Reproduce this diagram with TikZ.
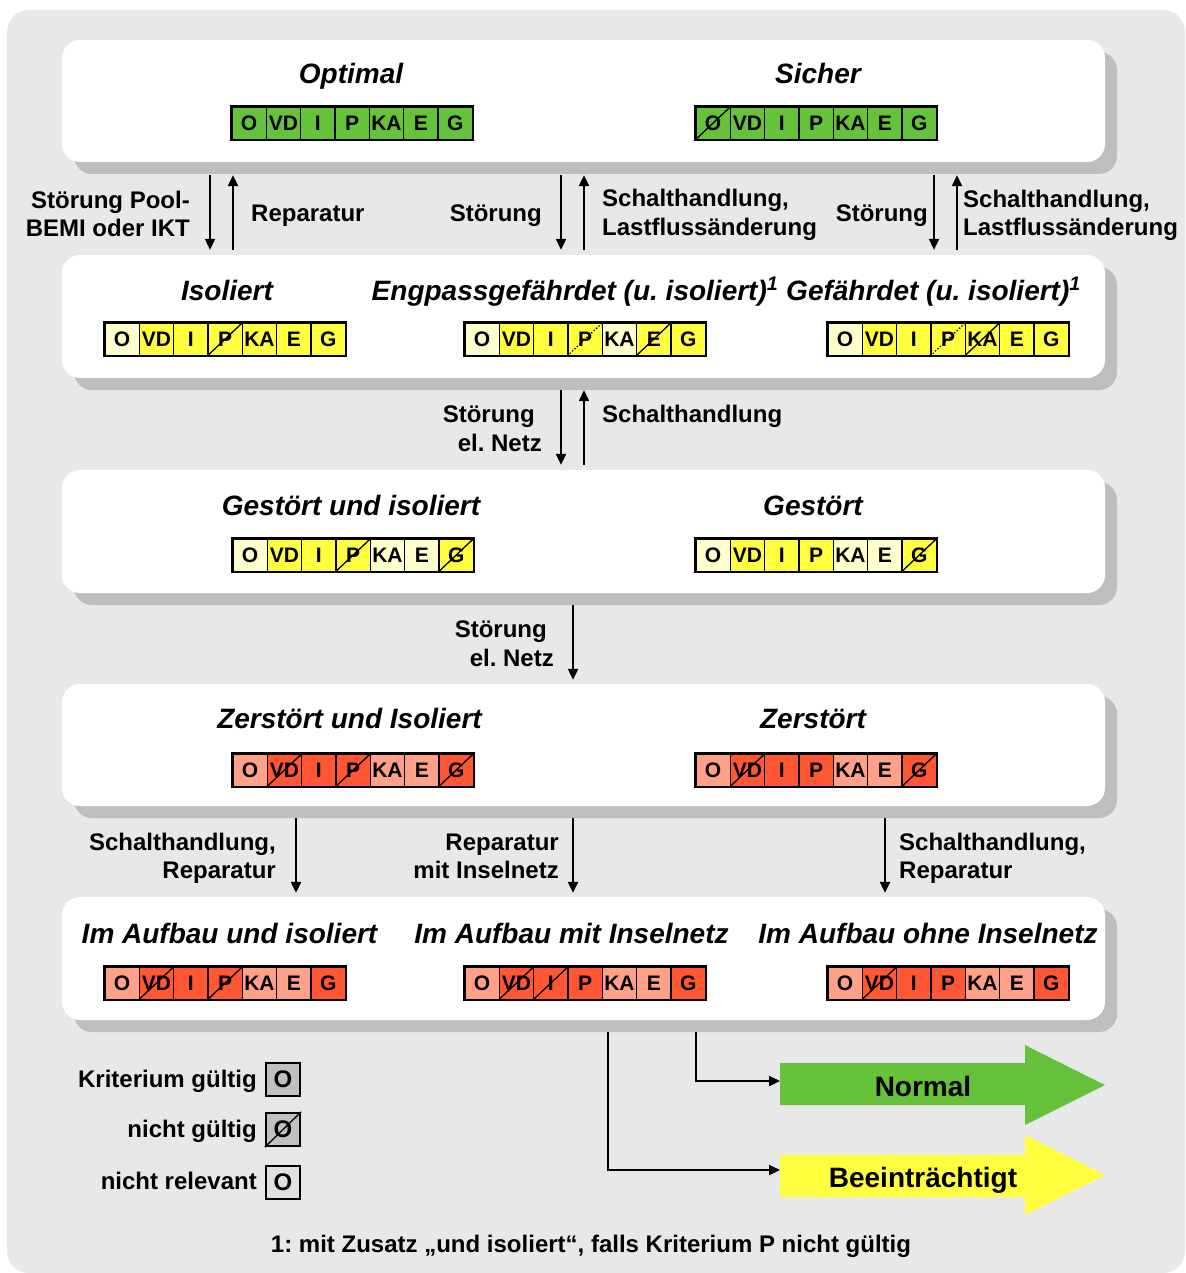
\documentclass[tikz,border=0pt]{standalone}
\usepackage{fontspec}
\setmainfont{Liberation Sans}
\usetikzlibrary{arrows.meta,shadows,calc}
\frenchspacing

\definecolor{bgc}{RGB}{232,232,232}
\definecolor{shd}{RGB}{190,190,190}
\definecolor{gn}{RGB}{102,194,58}
\definecolor{yl}{RGB}{255,255,64}
\definecolor{ly}{RGB}{255,255,204}
\definecolor{rd}{RGB}{255,87,51}
\definecolor{lr}{RGB}{255,160,138}
\definecolor{lgv}{RGB}{192,192,192}
\definecolor{lgn}{RGB}{224,224,224}

% one row of seven criteria: name, left x, top y, list label/colour/state
% state: 0 = valid, 1 = not valid (crossed), 2 = conditionally not valid (dotted)
\newcommand\critrow[4]{%
  \foreach \lab/\col/\st [count=\i from 0] in {#4}{%
    \node[cell,fill=\col,anchor=north west] (#1-\i) at ({#2+1.3+\i*34.35},{#3+1.3}) {\lab};
    \ifcase\st\or
      \draw[xline] (#1-\i.south west) -- (#1-\i.north east);
    \or
      \draw[xline,dotted] (#1-\i.south west) -- (#1-\i.north east);
    \fi
  }
  \draw[frame] (#1-0.north west) rectangle (#1-6.south east);
}

\begin{document}
\begin{tikzpicture}[x=1pt,y=-1pt,
  panel/.style={fill=white,rounded corners=18pt,minimum width=1043pt,inner sep=0pt,
    drop shadow={shadow xshift=12pt,shadow yshift=-12pt,fill=shd,opacity=1}},
  cell/.style={draw,line width=1.2pt,minimum width=34.35pt,minimum height=32.4pt,inner sep=0pt,
    font=\bfseries\fontsize{21}{21}\selectfont},
  frame/.style={line width=2.6pt},
  xline/.style={line width=1.3pt},
  ttl/.style={font=\bfseries\itshape\fontsize{28}{32}\selectfont,inner sep=0pt,anchor=base},
  lbl/.style={font=\bfseries\fontsize{24}{28}\selectfont,inner sep=0pt},
  arr/.style={line width=2.2pt,-{Triangle[length=11pt,width=10pt]}},
  big/.style={font=\bfseries\fontsize{28}{32}\selectfont,inner sep=0pt,anchor=base},
  lgbox/.style={draw,line width=2.4pt,minimum width=34pt,minimum height=33pt,inner sep=0pt,
    font=\bfseries\fontsize{24}{24}\selectfont},
]
\useasboundingbox (0,0) rectangle (1185,1273);
\fill[bgc,rounded corners=22pt] (7,10) rectangle (1185,1273);

% panels
\node[panel,minimum height=122pt] (p1) at (583.5,101) {};
\node[panel,minimum height=123pt] (p2) at (583.5,316.5) {};
\node[panel,minimum height=123pt] (p3) at (583.5,531.5) {};
\node[panel,minimum height=122pt] (p4) at (583.5,745) {};
\node[panel,minimum height=123pt] (p5) at (583.5,958.5) {};

% row 1
\node[ttl] (t-opt) at (351,84) {Optimal};
\node[ttl] (t-sic) at (818,84) {Sicher};
\critrow{opt}{230}{105}{O/gn/0,VD/gn/0,I/gn/0,P/gn/0,KA/gn/0,E/gn/0,G/gn/0}
\critrow{sic}{694}{105}{O/gn/1,VD/gn/0,I/gn/0,P/gn/0,KA/gn/0,E/gn/0,G/gn/0}

% row 2
\node[ttl] (t-iso) at (227,300) {Isoliert};
\node[ttl] (t-eng) at (575,300) {Engpassgefährdet (u. isoliert)\textsuperscript{1}};
\node[ttl] (t-gef) at (933.5,300) {Gefährdet (u. isoliert)\textsuperscript{1}};
\critrow{iso}{103}{321}{O/ly/0,VD/yl/0,I/yl/0,P/yl/1,KA/yl/0,E/yl/0,G/yl/0}
\critrow{eng}{463}{321}{O/ly/0,VD/yl/0,I/yl/0,P/yl/2,KA/ly/0,E/yl/1,G/yl/0}
\critrow{gef}{826}{321}{O/ly/0,VD/yl/0,I/yl/0,P/yl/2,KA/yl/1,E/yl/0,G/yl/0}

% row 3
\node[ttl] (t-gsi) at (351,515) {Gestört und isoliert};
\node[ttl] (t-gst) at (813,515) {Gestört};
\critrow{gsi}{231}{537}{O/ly/0,VD/yl/0,I/yl/0,P/yl/1,KA/ly/0,E/ly/0,G/yl/1}
\critrow{gst}{694}{537}{O/ly/0,VD/yl/0,I/yl/0,P/yl/0,KA/ly/0,E/ly/0,G/yl/1}

% row 4
\node[ttl] (t-zsi) at (349.5,728) {Zerstört und Isoliert};
\node[ttl] (t-zst) at (813,728) {Zerstört};
\critrow{zsi}{231}{752}{O/lr/0,VD/rd/1,I/rd/0,P/rd/1,KA/lr/0,E/lr/0,G/rd/1}
\critrow{zst}{694}{752}{O/lr/0,VD/rd/1,I/rd/0,P/rd/0,KA/lr/0,E/lr/0,G/rd/1}

% row 5
\node[ttl] (t-aui) at (229.5,943) {Im Aufbau und isoliert};
\node[ttl] (t-aum) at (571.5,943) {Im Aufbau mit Inselnetz};
\node[ttl] (t-auo) at (928,943) {Im Aufbau ohne Inselnetz};
\critrow{aui}{103}{965}{O/lr/0,VD/rd/1,I/rd/0,P/rd/1,KA/lr/0,E/lr/0,G/rd/0}
\critrow{aum}{463}{965}{O/lr/0,VD/rd/1,I/rd/1,P/rd/0,KA/lr/0,E/lr/0,G/rd/0}
\critrow{auo}{826}{965}{O/lr/0,VD/rd/1,I/rd/0,P/rd/0,KA/lr/0,E/lr/0,G/rd/0}

% gap ends between the panels
\coordinate (g1t) at ([yshift=-13pt]p1.south);
\coordinate (g1b) at ([yshift=5pt]p2.north);
\coordinate (g2t) at ([yshift=-12pt]p2.south);
\coordinate (g2b) at ([yshift=5pt]p3.north);
\coordinate (g3t) at ([yshift=-12pt]p3.south);
\coordinate (g3b) at ([yshift=4pt]p4.north);
\coordinate (g4t) at ([yshift=-12pt]p4.south);
\coordinate (g4b) at ([yshift=4pt]p5.north);

% transitions row 1 <-> row 2
\draw[arr] (g1t -| 210,0) -- (g1b -| 210,0);
\draw[arr] (g1b -| 233,0) -- (g1t -| 233,0);
\draw[arr] (g1t -| 561,0) -- (g1b -| 561,0);
\draw[arr] (g1b -| 584,0) -- (g1t -| 584,0);
\draw[arr] (g1t -| 934,0) -- (g1b -| 934,0);
\draw[arr] (g1b -| 957,0) -- (g1t -| 957,0);
\node[lbl,anchor=base east] (l1a) at (190,208.5) {Störung Pool-};
\node[lbl,anchor=base east] (l1b) at (190,236.5) {BEMI oder IKT};
\node[lbl,anchor=base west] (l2) at (251,221.5) {Reparatur};
\node[lbl,anchor=base east] (l3) at (542,221.5) {Störung};
\node[lbl,anchor=base west] (l4a) at (602,206.5) {Schalthandlung,};
\node[lbl,anchor=base west] (l4b) at (602,235.5) {Lastflussänderung};
\node[lbl,anchor=base east] (l5) at (928,221.5) {Störung};
\node[lbl,anchor=base west] (l6a) at (963,207.5) {Schalthandlung,};
\node[lbl,anchor=base west] (l6b) at (963,235.5) {Lastflussänderung};

% transitions row 2 <-> row 3
\draw[arr] (g2t -| 561,0) -- (g2b -| 561,0);
\draw[arr] (g2b -| 584,0) -- (g2t -| 584,0);
\node[lbl,anchor=base east] (l7a) at (535,422.5) {Störung};
\node[lbl,anchor=base east] (l7b) at (542,451.5) {el. Netz};
\node[lbl,anchor=base west] (l8) at (602,422.5) {Schalthandlung};

% transition row 3 -> row 4
\draw[arr] (g3t -| 573,0) -- (g3b -| 573,0);
\node[lbl,anchor=base east] (l9a) at (547,637.5) {Störung};
\node[lbl,anchor=base east] (l9b) at (554,666.5) {el. Netz};

% transitions row 4 -> row 5
\draw[arr] (g4t -| 296,0) -- (g4b -| 296,0);
\draw[arr] (g4t -| 573,0) -- (g4b -| 573,0);
\draw[arr] (g4t -| 885,0) -- (g4b -| 885,0);
\node[lbl,anchor=base east] (l10a) at (276,850.5) {Schalthandlung,};
\node[lbl,anchor=base east] (l10b) at (276,878.5) {Reparatur};
\node[lbl,anchor=base east] (l11a) at (559,850.5) {Reparatur};
\node[lbl,anchor=base east] (l11b) at (559,878.5) {mit Inselnetz};
\node[lbl,anchor=base west] (l12a) at (899,850.5) {Schalthandlung,};
\node[lbl,anchor=base west] (l12b) at (899,878.5) {Reparatur};

% result arrows
\fill[gn] (780,1063) -- (1025,1063) -- (1025,1045) -- (1105,1085) -- (1025,1125)
  -- (1025,1105) -- (780,1105) -- cycle;
\node[big] (normal) at (923,1096) {Normal};
\fill[yl] (780,1155) -- (1025,1155) -- (1025,1135) -- (1105,1175) -- (1025,1215)
  -- (1025,1197) -- (780,1197) -- cycle;
\node[big] (beein) at (923,1187) {Beeinträchtigt};
\coordinate (normal-in) at (780,1081);
\coordinate (beein-in) at (780,1170);
\coordinate (o1) at ([yshift=-12pt]p5.south -| 696,0);
\coordinate (o2) at ([yshift=-12pt]p5.south -| 608,0);
\draw[arr] (o1) |- (normal-in);
\draw[arr] (o2) |- (beein-in);

% legend
\node[lbl,anchor=base east] (lg1t) at (257,1087.5) {Kriterium gültig};
\node[lgbox,fill=lgv] (lg1) at (283,1079.5) {O};
\node[lbl,anchor=base east] (lg2t) at (257,1137.5) {nicht gültig};
\node[lgbox,fill=lgv] (lg2) at (283,1129.5) {O};
\draw[xline] (lg2.south west) -- (lg2.north east);
\node[lbl,anchor=base east] (lg3t) at (257,1189.5) {nicht relevant};
\node[lgbox,fill=lgn] (lg3) at (283,1182.5) {O};

% footnote
\node[lbl,anchor=base] (fn) at (591,1252)
  {1: mit Zusatz „und isoliert“, falls Kriterium P nicht gültig};
\end{tikzpicture}
\end{document}
